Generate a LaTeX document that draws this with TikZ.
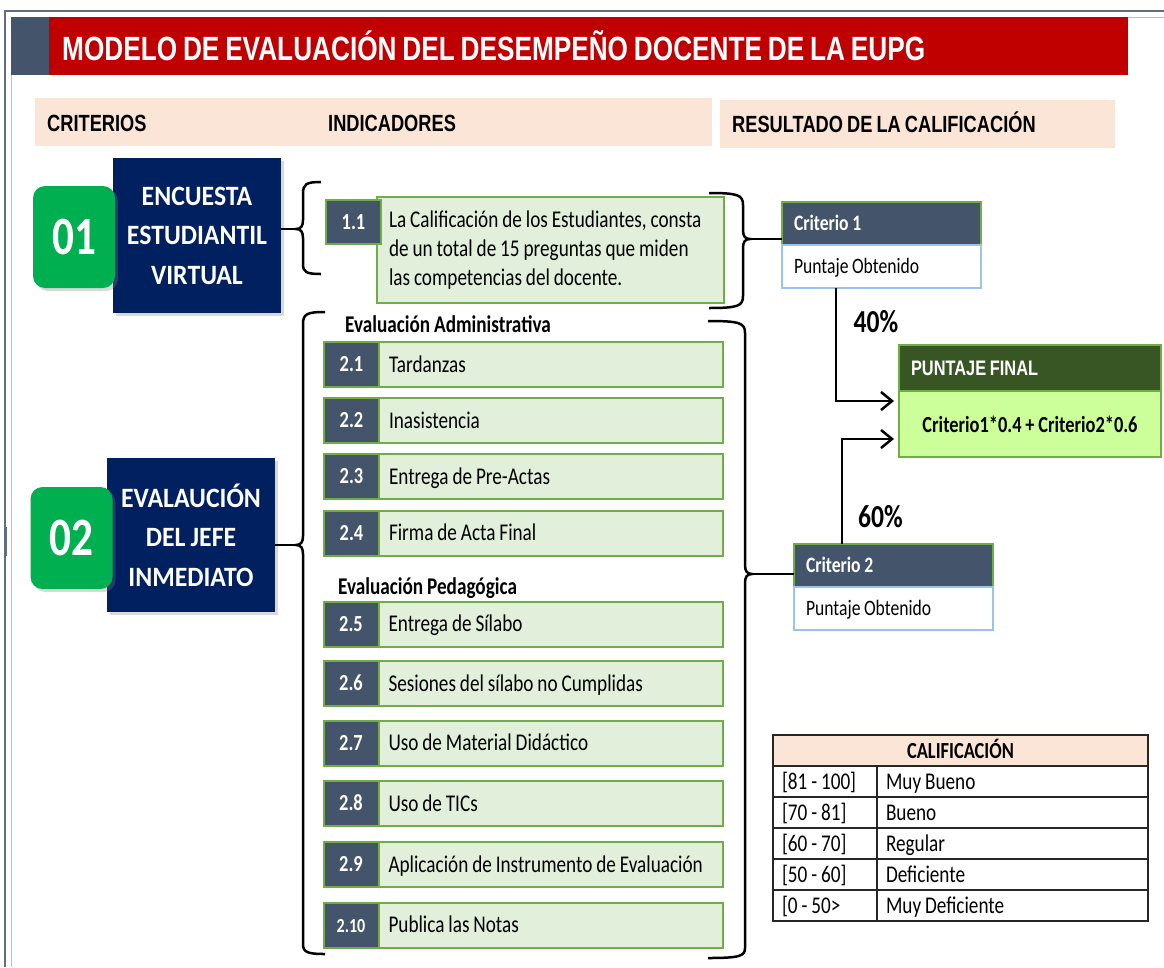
\documentclass[tikz,border=0pt]{standalone}
\usepackage{fontspec}
\setmainfont{Carlito}[FakeStretch=0.8, WordSpace=0.9]
\newfontfamily\boxfont{Carlito}[FakeStretch=0.92, WordSpace=0.9]
\newfontfamily\narrowfont{Liberation Sans}[FakeStretch=0.78, WordSpace=0.8]
\usetikzlibrary{positioning,arrows.meta,shadows}
\definecolor{titlered}{RGB}{192,0,0}
\definecolor{slate}{RGB}{68,84,106}
\definecolor{peach}{RGB}{251,229,214}
\definecolor{okgreen}{RGB}{0,176,80}
\definecolor{navy}{RGB}{0,32,96}
\definecolor{itemfill}{RGB}{226,239,218}
\definecolor{itemgreen}{RGB}{112,173,71}
\definecolor{lightblue}{RGB}{157,195,230}
\definecolor{darkgreen}{RGB}{56,86,35}
\definecolor{limefill}{RGB}{204,255,153}
\definecolor{framegray}{RGB}{96,110,130}
\tikzset{
  tw/.style={execute at begin node={\spaceskip=0pt\xspaceskip=0pt\relax}},
  hdr/.style={font=\fontsize{23.4}{26}\narrowfont\bfseries, text height=19.5pt, text depth=2.8pt, inner sep=0pt},
  band/.style={fill=peach, inner sep=0pt},
  critbox/.style={fill=navy, text=white, font=\fontsize{28}{39.5}\boxfont\bfseries, minimum width=168pt, minimum height=155pt, align=center, drop shadow={shadow xshift=3pt, shadow yshift=-3pt, opacity=0.3}},
  numsq/.style={fill=okgreen, rounded corners=12pt, text=white, font=\fontsize{54}{60}\selectfont\bfseries, minimum width=82pt, minimum height=102pt, inner sep=0pt, drop shadow={shadow xshift=3pt, shadow yshift=-3pt, opacity=0.3}},
  numbox/.style={draw=itemgreen, line width=2pt, fill=slate, text=white, font=\fontsize{23}{27}\selectfont\bfseries, minimum width=55pt, minimum height=45pt, inner sep=0pt, outer sep=0pt, text height=17pt, text depth=2.5pt},
  itembase/.style={tw, draw=itemgreen, line width=2pt, fill=itemfill, font=\fontsize{24}{29}\selectfont, text width=324pt, inner xsep=10pt, outer sep=0pt},
  itembox/.style={itembase, minimum height=45pt, text height=18pt, text depth=2.8pt},
  sub/.style={font=\fontsize{24}{28}\selectfont\bfseries, text height=18pt, text depth=2.8pt, inner sep=0pt, anchor=west},
  bracket/.style={line width=2.5pt},
  chead/.style={tw, draw=itemgreen, line width=2pt, fill=slate, text=white, font=\fontsize{22}{26}\selectfont\bfseries, minimum width=199pt, minimum height=43pt, text width=175pt, inner xsep=12pt, outer sep=0pt, text height=16.5pt, text depth=2.6pt},
  cbody/.style={tw, draw=lightblue, line width=2pt, fill=white, font=\fontsize{22}{26}\selectfont, minimum width=199pt, minimum height=43pt, text width=175pt, inner xsep=12pt, outer sep=0pt, text height=16.5pt, text depth=2.6pt},
  pct/.style={font=\fontsize{32}{36}\selectfont\bfseries, text height=23.5pt, text depth=3.3pt, inner sep=0pt},
  flow/.style={line width=2.5pt, -{Straight Barb[length=11pt, width=18pt]}, shorten >=5pt},
  tcell/.style={tw, draw=black!85, line width=1.5pt, font=\fontsize{24}{28}\selectfont, minimum height=31pt, inner xsep=9pt, inner ysep=0pt, outer sep=0pt, text height=18pt, text depth=2.8pt},
  tcella/.style={tcell, text width=86pt},
  tcellb/.style={tcell, text width=253pt}
}
\begin{document}
\hyphenpenalty=10000
\begin{tikzpicture}[x=1pt,y=-1pt]
\useasboundingbox (0,0) rectangle (1164,967);
% frame
\draw[framegray, line width=1.5pt] (5,967) -- (5,11) -- (1164,11);
\draw[framegray!45, line width=1pt] (11,967) -- (11,17) -- (1164,17);
\draw[framegray, line width=3pt] (5,527) -- (5,556);
% title
\node[tw, fill=titlered, anchor=north west, minimum width=1079pt, minimum height=58pt, inner xsep=13pt, text width=1053pt, text=white, font=\fontsize{33.6}{36}\narrowfont\bfseries] (title) at (49,17) {MODELO DE EVALUACIÓN DEL DESEMPEÑO DOCENTE DE LA EUPG};
\node[fill=slate, anchor=north east, minimum width=38pt, minimum height=58pt, inner sep=0pt] (strip) at (title.north west) {};
% column headers
\node[band, anchor=north west, minimum width=677pt, minimum height=48pt] (bandl) at (35,98) {};
\node[hdr, anchor=west] (hcrit) at (47,123) {CRITERIOS};
\node[hdr, anchor=west] (hind) at (328,123) {INDICADORES};
\node[tw, band, hdr, anchor=north west, minimum width=395pt, minimum height=48pt, inner xsep=12pt, text width=371pt] (bandr) at (720,100) {RESULTADO DE LA CALIFICACIÓN};
% criterio 01
\node[critbox] (enc) at (197,235.5) {ENCUESTA\\ESTUDIANTIL\\VIRTUAL};
\node[numsq] (sq1) at (74,237) {01};
% criterio 02
\node[critbox, minimum height=154pt] (jefe) at (191,535) {EVALAUCIÓN\\DEL JEFE\\INMEDIATO};
\node[numsq] (sq2) at (71.5,538) {02};
% indicador 1.1
\node[itembase, anchor=north west, minimum height=106pt, inner xsep=12pt, text width=323pt] (i11) at (377,197) {La Calificación de los Estudiantes, consta\\de un total de 15 preguntas que miden\\las competencias del docente.};
\node[numbox, minimum height=44pt, anchor=north west] (n11) at (326,200) {1.1};
% evaluacion administrativa
\node[sub] (adm) at (345,325) {Evaluación Administrativa};
\node[numbox] (n21) at (351.5,364.5) {2.1};
\node[itembox, right=0pt of n21] (i21) {Tardanzas};
\node[numbox] (n22) at (351.5,420.5) {2.2};
\node[itembox, right=0pt of n22] (i22) {Inasistencia};
\node[numbox] (n23) at (351.5,476.5) {2.3};
\node[itembox, right=0pt of n23] (i23) {Entrega de Pre-Actas};
\node[numbox] (n24) at (351.5,533) {2.4};
\node[itembox, right=0pt of n24] (i24) {Firma de Acta Final};
% evaluacion pedagogica
\node[sub] (ped) at (338,587) {Evaluación Pedagógica};
\node[numbox] (n25) at (351,624) {2.5};
\node[itembox, right=0pt of n25] (i25) {Entrega de Sílabo};
\node[numbox] (n26) at (351,683.5) {2.6};
\node[itembox, right=0pt of n26] (i26) {Sesiones del sílabo no Cumplidas};
\node[numbox] (n27) at (351,743) {2.7};
\node[itembox, right=0pt of n27] (i27) {Uso de Material Didáctico};
\node[numbox] (n28) at (351,803.5) {2.8};
\node[itembox, right=0pt of n28] (i28) {Uso de TICs};
\node[numbox] (n29) at (351,864.5) {2.9};
\node[itembox, right=0pt of n29] (i29) {Aplicación de Instrumento de Evaluación};
\node[numbox, font=\fontsize{20}{24}\selectfont\bfseries] (n210) at (351,925) {2.10};
\node[itembox, right=0pt of n210] (i210) {Publica las Notas};
% braces
\coordinate (b1tip) at (296,229);
\coordinate (b2tip) at (750,239);
\coordinate (b3tip) at (296,545);
\coordinate (b4tip) at (752,574);
\draw[bracket] (321,182) .. controls (306,182) and (303,184) .. (303,194) -- (303,220) .. controls (303,226) and (301,229) .. (b1tip) .. controls (301,229) and (303,232) .. (303,238) -- (303,264) .. controls (303,272) and (306,274) .. (321,274);
\draw[bracket] (709,193) .. controls (738,193) and (743,195) .. (743,205) -- (743,230) .. controls (743,236) and (745,239) .. (b2tip) .. controls (745,239) and (743,242) .. (743,248) -- (743,296) .. controls (743,306) and (738,308) .. (709,308);
\draw[bracket] (325,312) .. controls (307,312) and (303,314) .. (303,324) -- (303,536) .. controls (303,542) and (301,545) .. (b3tip) .. controls (301,545) and (303,548) .. (303,554) -- (303,944) .. controls (303,952) and (307,954) .. (325,954);
\draw[bracket] (708,321) .. controls (740,321) and (745,323) .. (745,333) -- (745,565) .. controls (745,571) and (747,574) .. (b4tip) .. controls (747,574) and (745,577) .. (745,583) -- (745,948) .. controls (745,956) and (740,958) .. (708,958);
% connectors to braces
\draw[bracket] (enc.east |- b1tip) -- (b1tip);
\draw[bracket] (jefe.east |- b3tip) -- (b3tip);
% resultado
\node[chead, anchor=north west] (c1head) at (782,202) {Criterio 1};
\node[cbody, below=0pt of c1head] (c1body) {Puntaje Obtenido};
\node[chead, anchor=north west] (c2head) at (794,544) {Criterio 2};
\node[cbody, below=0pt of c2head] (c2body) {Puntaje Obtenido};
\draw[bracket] (b2tip) -- (b2tip -| c1head.west);
\draw[bracket] (b4tip) -- (b4tip -| c2head.west);
% puntaje final
\node[tw, fill=darkgreen, draw=itemgreen, line width=2pt, outer sep=0pt, text=white, font=\fontsize{21}{24}\narrowfont\bfseries, minimum width=262pt, minimum height=46pt, text width=238pt, inner xsep=12pt, anchor=north west] (fhead) at (899,345) {PUNTAJE FINAL};
\node[fill=limefill, draw=itemgreen, line width=2pt, outer sep=0pt, font=\fontsize{23}{27}\selectfont\bfseries, minimum width=262pt, minimum height=66pt, below=0pt of fhead] (fbody) {Criterio1*0.4 + Criterio2*0.6};
\draw[flow] ([xshift=-45.5pt]c1body.south) |- ([yshift=23pt]fbody.west);
\draw[flow] ([xshift=-51.5pt]c2head.north) |- ([yshift=-15pt]fbody.west);
\node[pct] (p40) at (876,322) {40\%};
\node[pct] (p60) at (880.5,517) {60\%};
% tabla de calificacion
\node[tcell, fill=peach, minimum width=375pt, font=\fontsize{23}{27}\selectfont\bfseries, anchor=north west] (cal) at (773,735) {CALIFICACIÓN};
\node[tcella, below=0pt of cal.south west, anchor=north west] (r1a) {[81 - 100]};
\node[tcellb, right=0pt of r1a] (r1b) {Muy Bueno};
\node[tcella, below=0pt of r1a] (r2a) {[70 - 81]};
\node[tcellb, right=0pt of r2a] (r2b) {Bueno};
\node[tcella, below=0pt of r2a] (r3a) {[60 - 70]};
\node[tcellb, right=0pt of r3a] (r3b) {Regular};
\node[tcella, below=0pt of r3a] (r4a) {[50 - 60]};
\node[tcellb, right=0pt of r4a] (r4b) {Deficiente};
\node[tcella, below=0pt of r4a] (r5a) {[0 - 50>};
\node[tcellb, right=0pt of r5a] (r5b) {Muy Deficiente};
\end{tikzpicture}
\end{document}
